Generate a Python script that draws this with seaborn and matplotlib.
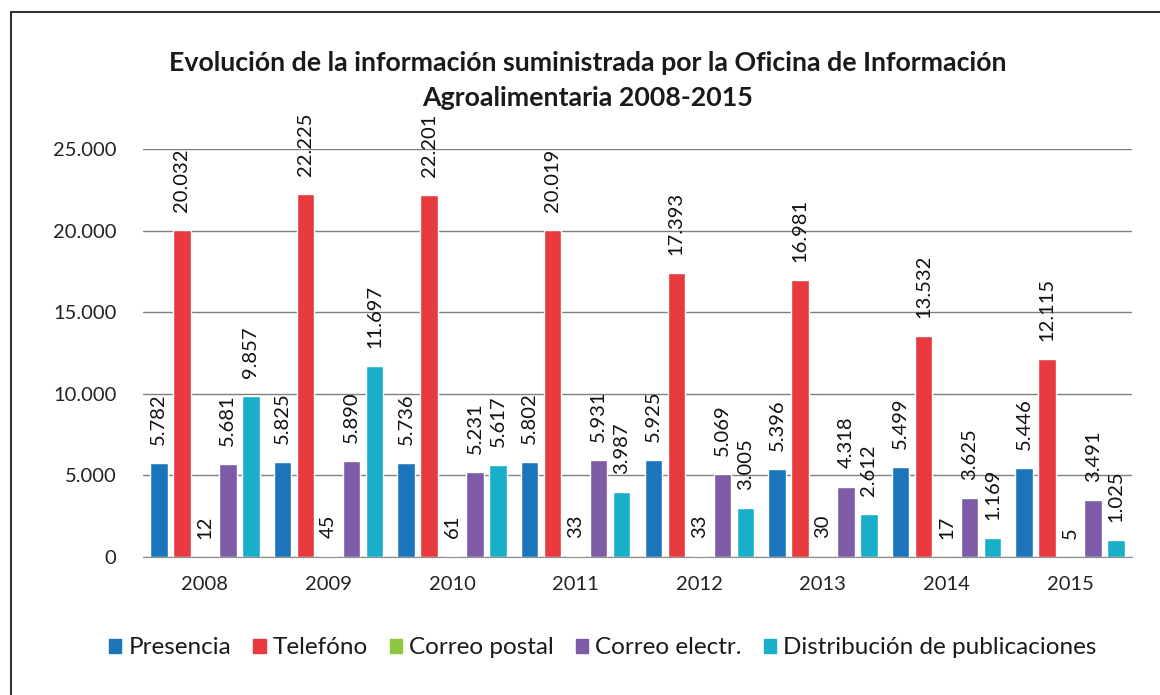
import pandas as pd
import numpy as np
import matplotlib.pyplot as plt
import seaborn as sns

years = ['2008', '2009', '2010', '2011', '2012', '2013', '2014', '2015']
series = ['Presencia', 'Telefóno', 'Correo postal', 'Correo electr.', 'Distribución de publicaciones']
presencia = [5782, 5825, 5736, 5802, 5925, 5396, 5499, 5446]
telefono = [20032, 22225, 22201, 20019, 17393, 16981, 13532, 12115]
correo_postal = [12, 45, 61, 33, 33, 30, 17, 5]
correo_electr = [5681, 5890, 5231, 5931, 5069, 4318, 3625, 3491]
distribucion = [9857, 11697, 5617, 3987, 3005, 2612, 1169, 1025]
colors = ['#1b75bb', '#e8393f', '#8dc63f', '#7d5ba6', '#19afc8']

values = [presencia, telefono, correo_postal, correo_electr, distribucion]
rows = []
for name, vals in zip(series, values):
    for y, v in zip(years, vals):
        rows.append({'Año': y, 'Serie': name, 'Valor': v})
data = pd.DataFrame(rows)

sns.set_style('white')
plt.rcParams['font.family'] = ['Lato', 'DejaVu Sans']

fig = plt.figure(figsize = (11.6, 6.95), dpi = 100)
ax = fig.add_axes([143 / 1160, 1 - 557 / 695, (1132 - 143) / 1160, (557 - 149) / 695])

sns.barplot(data = data, x = 'Año', y = 'Valor', hue = 'Serie', hue_order = series,
            palette = colors, width = 0.93, gap = 0.24, saturation = 1, ax = ax, legend = False)

for cont, vals in zip(ax.containers, values):
    labels = [f'{v:,}'.replace(',', '.') for v in vals]
    ax.bar_label(cont, labels = labels, rotation = 90, padding = 13, fontsize = 14.5,
                 color = '#111111', clip_on = False)

ax.set_ylim(0, 25000)
ax.set_xlim(-0.5, 7.5)
ax.set_yticks([0, 5000, 10000, 15000, 20000, 25000])
ax.set_yticklabels(['0', '5.000', '10.000', '15.000', '20.000', '25.000'])
ax.yaxis.grid(True, color = '#7f7f7f', linewidth = 1)
ax.set_axisbelow(True)
for s in ['left', 'right', 'top']:
    ax.spines[s].set_visible(False)
ax.spines['bottom'].set_color('#8c8c8c')
ax.tick_params(axis = 'both', length = 0, labelsize = 14.5, colors = '#222222')
ax.tick_params(axis = 'y', pad = 19)
ax.tick_params(axis = 'x', pad = 14)
ax.set_xlabel('')
ax.set_ylabel('')

fig.text(588 / 1160, 1 - 63 / 695, 'Evolución de la información suministrada por la Oficina de Información',
         ha = 'center', va = 'center', fontsize = 19.3, fontweight = 'bold', color = '#1a1a1a')
fig.text(588 / 1160, 1 - 98 / 695, 'Agroalimentaria 2008-2015',
         ha = 'center', va = 'center', fontsize = 19.3, fontweight = 'bold', color = '#1a1a1a')

handles = [plt.Rectangle((0, 0), 1, 1, color = c) for c in colors]
fig.legend(handles, series, loc = 'center', bbox_to_anchor = (603 / 1160, 1 - 648 / 695), ncol = 5,
           frameon = False, fontsize = 17.5, handlelength = 0.5, handleheight = 0.5,
           handletextpad = 0.3, columnspacing = 0.9, labelcolor = '#1a1a1a')

# border of the original figure (cut at right and bottom)
fig.add_artist(plt.Line2D([11 / 1160, 1], [1 - 12 / 695, 1 - 12 / 695], color = '#333333', linewidth = 1.5))
fig.add_artist(plt.Line2D([11 / 1160, 11 / 1160], [0, 1 - 12 / 695], color = '#333333', linewidth = 1.5))

plt.savefig('out.png', dpi = 100)
